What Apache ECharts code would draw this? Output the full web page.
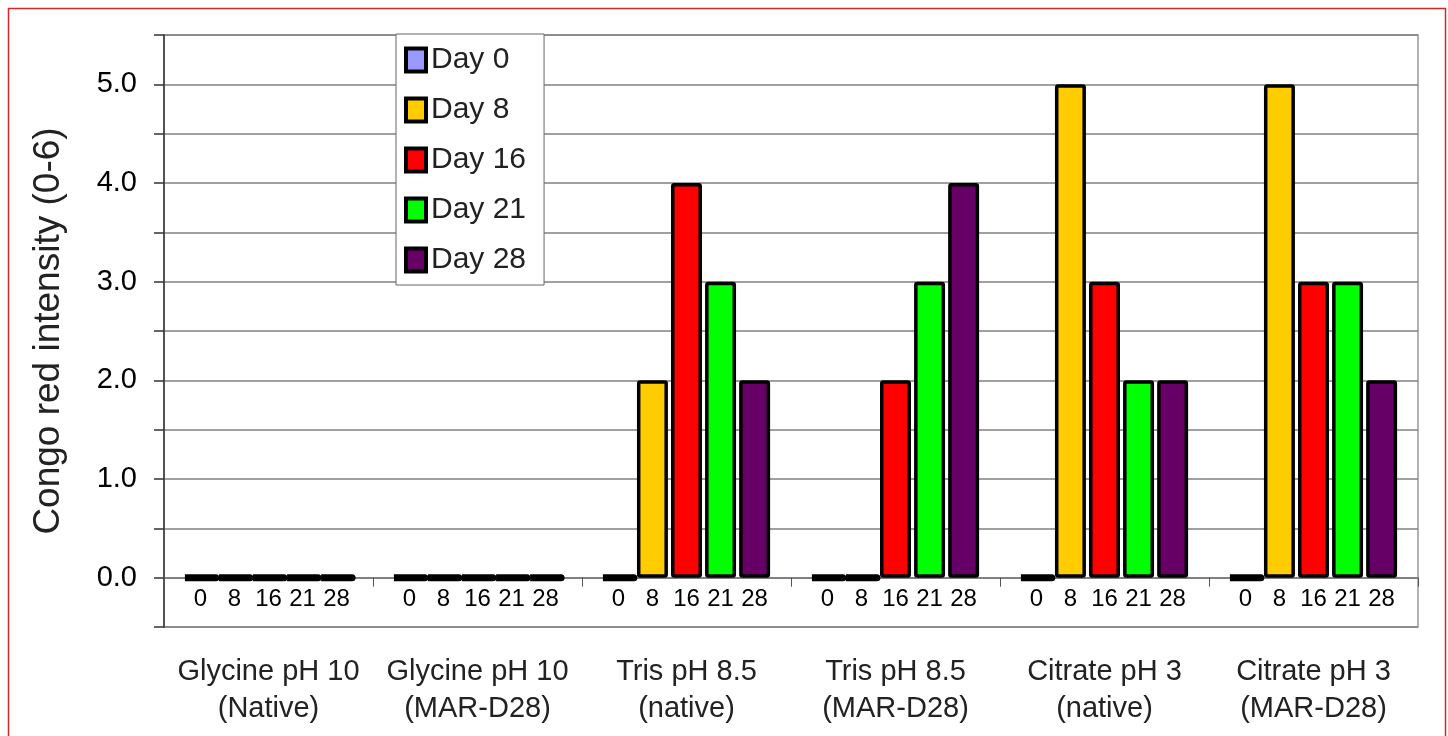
<!DOCTYPE html>
<html>
<head>
<meta charset="utf-8">
<script src="https://cdn.jsdelivr.net/npm/echarts@6/dist/echarts.min.js"></script>
<style>
html,body{margin:0;padding:0;background:#fff;}
#chart{width:1448px;height:736px;}
</style>
</head>
<body>
<div id="chart"></div>
<script>
const categories = [
  'Glycine pH 10\n(Native)',
  'Glycine pH 10\n(MAR-D28)',
  'Tris pH 8.5\n(native)',
  'Tris pH 8.5\n(MAR-D28)',
  'Citrate pH 3\n(native)',
  'Citrate pH 3\n(MAR-D28)'
];
const seriesNames = ['Day 0', 'Day 8', 'Day 16', 'Day 21', 'Day 28'];
const dayLabels = ['0', '8', '16', '21', '28'];
const colors = ['#9999ff', '#ffcc00', '#ff0000', '#00ff00', '#660066'];
const day0 = [0, 0, 0, 0, 0, 0];
const day8 = [0, 0, 2, 0, 5, 5];
const day16 = [0, 0, 4, 2, 3, 3];
const day21 = [0, 0, 3, 3, 2, 3];
const day28 = [0, 0, 2, 4, 2, 2];
const values = [day0, day8, day16, day21, day28];

const FONT = '"Liberation Sans", Arial, sans-serif';

const chart = echarts.init(document.getElementById('chart'));

const series = seriesNames.map((name, i) => ({
  name: name,
  type: 'bar',
  data: values[i].map(v => v === 0
    ? { value: v, itemStyle: { borderWidth: 7, borderJoin: 'round' }, label: { distance: 6 } }
    : v),
  barGap: '10%',
  barCategoryGap: '20%',
  itemStyle: {
    color: colors[i],
    borderColor: '#000',
    borderWidth: 3.5,
    borderRadius: 1.5
  },
  label: {
    show: true,
    position: 'bottom',
    distance: 10,
    formatter: () => dayLabels[i],
    color: '#000',
    fontSize: 24,
    fontFamily: FONT
  },
  emphasis: { disabled: true },
  z: 3
}));

chart.setOption({
  animation: false,
  backgroundColor: '#fff',
  graphic: [{
    type: 'rect',
    shape: { x: 8.5, y: 8.5, width: 1437, height: 760 },
    style: { fill: null, stroke: '#cc2a2a', lineWidth: 1.5 },
    silent: true,
    z: 0
  }],
  grid: {
    left: 164, right: 30, top: 35, bottom: 109,
    containLabel: false,
    outerBoundsMode: 'none',
    show: true,
    borderColor: '#999',
    borderWidth: 1.5
  },
  legend: {
    orient: 'vertical',
    left: 396,
    top: 34,
    data: seriesNames,
    icon: 'rect',
    itemWidth: 20,
    itemHeight: 23,
    itemGap: 20,
    padding: [11, 18, 10, 8],
    backgroundColor: '#fff',
    borderColor: '#666',
    borderWidth: 1,
    itemStyle: { borderColor: '#000', borderWidth: 4 },
    textStyle: { fontSize: 30, color: '#222', fontFamily: FONT },
    selectedMode: false
  },
  xAxis: {
    type: 'category',
    data: categories,
    axisLine: { onZero: true, lineStyle: { color: '#777', width: 1.5 } },
    axisTick: { show: true, length: 9, lineStyle: { color: '#555', width: 1 } },
    axisLabel: {
      margin: 26,
      fontSize: 29,
      lineHeight: 37,
      color: '#222',
      fontFamily: FONT,
      interval: 0
    },
    splitLine: { show: false }
  },
  yAxis: {
    type: 'value',
    min: -0.5,
    max: 5.5,
    interval: 0.5,
    name: 'Congo red intensity (0-6)',
    nameLocation: 'middle',
    nameGap: 97,
    nameTextStyle: { fontSize: 37, color: '#222', fontFamily: FONT },
    axisLine: { show: true, lineStyle: { color: '#333', width: 1.5 } },
    axisTick: { show: true, length: 10, lineStyle: { color: '#333', width: 1.5 } },
    axisLabel: {
      margin: 27,
      fontSize: 29,
      color: '#000',
      fontFamily: FONT,
      formatter: v => (Math.abs(v - Math.round(v)) < 1e-9 && v >= 0) ? v.toFixed(1) : ''
    },
    splitLine: { show: true, lineStyle: { color: '#808080', width: 1.5 } }
  },
  series: series
});
</script>
</body>
</html>
